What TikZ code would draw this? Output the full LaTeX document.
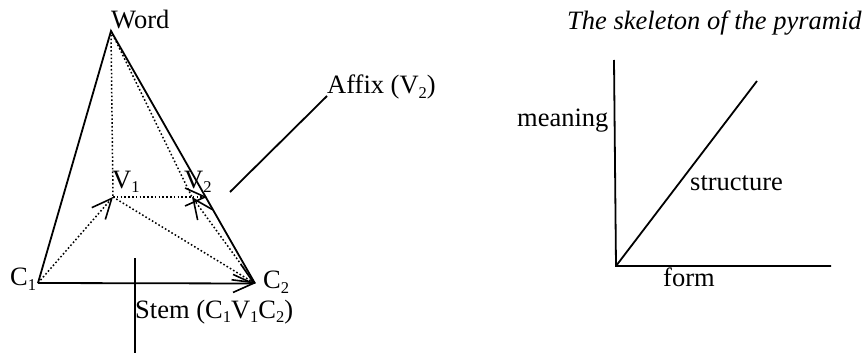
\documentclass[tikz,border=0pt]{standalone}
\usepackage{fontspec}
\setmainfont{Liberation Serif}
\usetikzlibrary{arrows.meta}

\newcommand{\lowsub}[1]{\raisebox{-4.5pt}{\fontsize{16.5}{18}\selectfont #1}}

\tikzset{
  txt/.style={anchor=base west,inner sep=0pt,font=\fontsize{26.5}{28}\selectfont},
  solidline/.style={line width=1.8pt},
  dotline/.style={line width=1.5pt,dash pattern=on 1.6pt off 2.2pt},
  barb/.style={-{Straight Barb[length=20pt,width=18pt,line width=1.6pt]}}
}

\begin{document}
\begin{tikzpicture}[x=1pt,y=-1pt]
\useasboundingbox (0,0) rectangle (868,353);

% Corners of the pyramid
\coordinate (word) at (111,31);
\coordinate (c1) at (38,283);
\coordinate (c2) at (255,283.5);
\coordinate (v1) at (113,197);
\coordinate (v2) at (207,197);
\coordinate (v2b) at (192,197);

% Solid edges
\draw[solidline] (c1) -- (word) -- (c2);
\draw[solidline,barb] (c1) -- (c2);

% Hidden edges
\draw[dotline] (word) -- (v1);
\draw[dotline] (word) -- (v2b);
\draw[dotline,barb] (v1) -- (v2);
\draw[dotline,barb] (v1) -- (c2);
\draw[dotline,barb] (c1) -- (v1);
\draw[dotline,barb] (c2) -- (v2b);

% Pyramid labels
\node[txt] (wordlabel) at (111,29) {Word};
\node[txt] (v1label) at (112,188) {V\lowsub{1}};
\node[txt] (v2label) at (184,188) {V\lowsub{2}};
\node[txt] (c1label) at (10,285.5) {C\lowsub{1}};
\node[txt] (c2label) at (263,288.5) {C\lowsub{2}};
\node[txt] (affixlabel) at (327,94) {Affix (V\lowsub{2})};
\node[txt] (stemlabel) at (135,318) {Stem (C\lowsub{1}V\lowsub{1}C\lowsub{2})};

% Pointer lines
\coordinate (affixend) at (230,192);
\coordinate (affixtop) at (327,96);
\coordinate (stemtop) at (135,258);
\coordinate (stemend) at (135,353);
\draw[solidline] (affixend) -- (affixtop);
\draw[solidline] (stemtop) -- (stemend);

% Skeleton
\coordinate (origin) at (616,266);
\coordinate (meaningend) at (614,60);
\coordinate (formend) at (831,266);
\coordinate (structend) at (757,81);
\draw[solidline] (meaningend) -- (origin) -- (formend);
\draw[solidline] (origin) -- (structend);

\node[txt] (title) at (567,30) {\itshape The skeleton of the pyramid};
\node[txt] (meaninglabel) at (517,126) {meaning};
\node[txt] (structlabel) at (690,190) {structure};
\node[txt] (formlabel) at (663,286) {form};
\end{tikzpicture}
\end{document}
